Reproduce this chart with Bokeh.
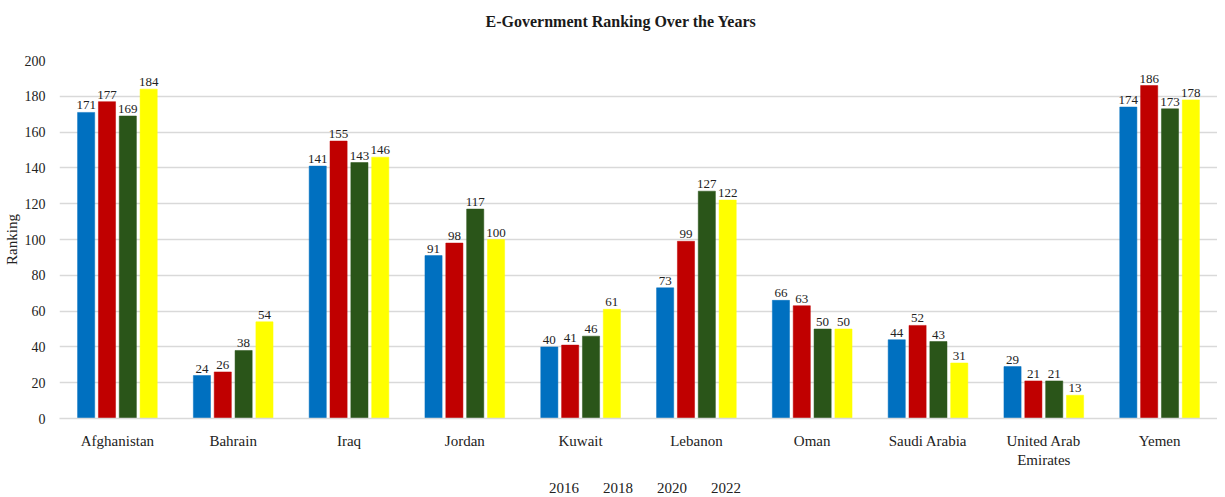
from bokeh.plotting import figure
from bokeh.layouts import column
from bokeh.models import ColumnDataSource, FactorRange, Range1d, Legend, LegendItem, Title
from bokeh.transform import dodge
from bokeh.core.properties import value
from bokeh.embed import file_html
from bokeh.resources import INLINE

countries = ["Afghanistan", "Bahrain", "Iraq", "Jordan", "Kuwait", "Lebanon",
             "Oman", "Saudi Arabia", "United Arab Emirates", "Yemen"]
years = ["2016", "2018", "2020", "2022"]
v2016 = [171, 24, 141, 91, 40, 73, 66, 44, 29, 174]
v2018 = [177, 26, 155, 98, 41, 99, 63, 52, 21, 186]
v2020 = [169, 38, 143, 117, 46, 127, 50, 43, 21, 173]
v2022 = [184, 54, 146, 100, 61, 122, 50, 31, 13, 178]
colors = ["#0070C0", "#C00000", "#2A5519", "#FFFF00"]
y_ticks = [0, 20, 40, 60, 80, 100, 120, 140, 160, 180, 200]

# category labels as displayed (long name wrapped onto two lines)
factors = [c.replace("United Arab ", "United Arab\n") for c in countries]

src = ColumnDataSource(dict(country=factors, y2016=v2016, y2018=v2018,
                            y2020=v2020, y2022=v2022,
                            l2016=[str(v) for v in v2016], l2018=[str(v) for v in v2018],
                            l2020=[str(v) for v in v2020], l2022=[str(v) for v in v2022]))

FONT = "Liberation Serif"
p = figure(frame_width=1158, frame_height=358,
           x_range=FactorRange(*factors, range_padding=0),
           y_range=Range1d(0, 200), output_backend="svg", toolbar_location=None,
           title="E-Government Ranking Over the Years",
           min_border_left=52, min_border_right=0, min_border_top=59, min_border_bottom=55)
p.outline_line_color = None
p.title.align = "left"
p.title.offset = 426
p.title.standoff = 21
p.title.text_font = FONT
p.title.text_font_size = "16px"
p.title.text_font_style = "bold"
p.title.text_color = "#1a1a1a"
# empty spacer between the title and the plot area
p.add_layout(Title(text=" ", text_font_size="1px", standoff=17), "above")

offsets = [-0.27, -0.09, 0.09, 0.27]
for yr, off, col in zip(years, offsets, colors):
    p.vbar(x=dodge("country", off, range=p.x_range), top="y" + yr, width=0.148,
           source=src, fill_color=col, line_color=col, line_width=0.5)
    p.text(x=dodge("country", off, range=p.x_range), y="y" + yr, text="l" + yr,
           source=src, text_align="center", text_baseline="bottom", y_offset=-3,
           text_font=value(FONT), text_font_size="13px", text_color="#222222")

p.xgrid.grid_line_color = None
p.ygrid.grid_line_color = "#d9d9d9"
p.ygrid.grid_line_width = 1.5
p.yaxis.ticker = y_ticks
p.yaxis.axis_line_color = None
p.yaxis.major_tick_line_color = None
p.yaxis.minor_tick_line_color = None
p.yaxis.major_label_text_font = FONT
p.yaxis.major_label_text_font_size = "14px"
p.yaxis.major_label_text_color = "#222222"
p.yaxis.major_label_standoff = 8
p.yaxis.axis_label = "Ranking"
p.yaxis.axis_label_text_font = FONT
p.yaxis.axis_label_text_font_size = "15px"
p.yaxis.axis_label_text_font_style = "normal"
p.yaxis.axis_label_text_color = "#222222"
p.yaxis.axis_label_standoff = 2

p.xaxis.axis_line_color = "#d9d9d9"
p.xaxis.axis_line_width = 1.5
p.xaxis.major_tick_line_color = None
p.xaxis.minor_tick_line_color = None
p.xaxis.major_label_text_font = FONT
p.xaxis.major_label_text_font_size = "15px"
p.xaxis.major_label_text_color = "#222222"
p.xaxis.major_label_standoff = 8

# legend strip below the chart
lf = figure(width=1210, height=24, x_range=Range1d(0, 1), y_range=Range1d(0, 1),
            output_backend="svg", toolbar_location=None,
            min_border_left=0, min_border_right=0, min_border_top=0, min_border_bottom=0)
lf.axis.visible = False
lf.grid.grid_line_color = None
lf.outline_line_color = None
items = []
for yr, col in zip(years, colors):
    r = lf.vbar(x=[], top=[], width=0.1, fill_color=col, line_color=col)
    items.append(LegendItem(label=yr, renderers=[r]))
legend = Legend(items=items, orientation="horizontal", location=(479, 0),
                label_text_font=FONT, label_text_font_size="15px",
                label_text_color="#222222", glyph_width=8, glyph_height=8,
                label_standoff=3, spacing=13, border_line_color=None,
                background_fill_alpha=0, padding=2, margin=0)
lf.add_layout(legend, "center")

open("out.html", "w").write(file_html(column(p, lf, spacing=0), INLINE))
